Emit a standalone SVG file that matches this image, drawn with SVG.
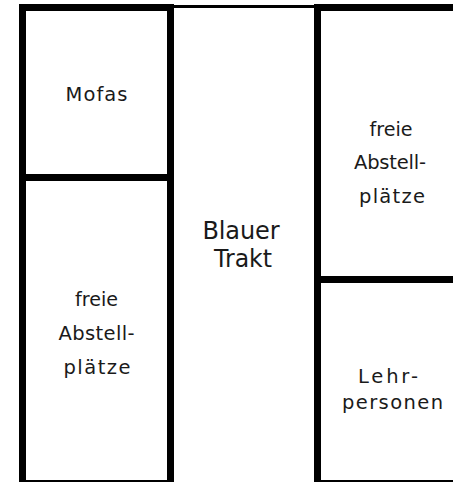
<svg xmlns="http://www.w3.org/2000/svg" width="453" height="482" viewBox="0 0 453 482">
<style>
.w{fill:#000}
.t{font-family:"DejaVu Sans","Noto Sans",sans-serif;font-size:19.5px;fill:#1a1a1a;text-anchor:middle}
.b{font-size:24px}
</style>
<rect width="453" height="482" fill="#fff"/>
<g id="walls">
<rect class="w" x="19" y="4" width="7" height="478"/>
<rect class="w" x="19" y="4" width="155" height="7"/>
<rect class="w" x="167" y="4" width="7" height="478"/>
<rect class="w" x="19" y="174" width="155" height="7"/>
<rect class="w" x="19" y="480" width="155" height="2"/>
<rect class="w" x="174" y="5" width="140" height="3"/>
<rect class="w" x="314" y="4" width="7" height="478"/>
<rect class="w" x="314" y="4" width="139" height="7"/>
<rect class="w" x="314" y="276" width="139" height="7"/>
<rect class="w" x="314" y="480" width="139" height="2"/>
</g>
<g id="mofas">
<text class="t" x="96.5" y="101" textLength="62" lengthAdjust="spacing">Mofas</text>
</g>
<g id="freie-links">
<text class="t" x="96.5" y="306" textLength="43" lengthAdjust="spacingAndGlyphs">freie</text>
<text class="t" x="96.5" y="340" textLength="76" lengthAdjust="spacing">Abstell-</text>
<text class="t" x="97" y="374" textLength="67" lengthAdjust="spacing">plätze</text>
</g>
<g id="blauer-trakt">
<text class="t b" x="241" y="238.5" textLength="77" lengthAdjust="spacing">Blauer</text>
<text class="t b" x="243" y="266.5" textLength="58" lengthAdjust="spacingAndGlyphs">Trakt</text>
</g>
<g id="freie-rechts">
<text class="t" x="391" y="136" textLength="43" lengthAdjust="spacingAndGlyphs">freie</text>
<text class="t" x="390" y="168.5" textLength="72" lengthAdjust="spacing">Abstell-</text>
<text class="t" x="392" y="202.5" textLength="66" lengthAdjust="spacing">plätze</text>
</g>
<g id="lehrpersonen">
<text class="t" x="388" y="383" textLength="60" lengthAdjust="spacing">Lehr-</text>
<text class="t" x="392.5" y="409" textLength="101" lengthAdjust="spacing">personen</text>
</g>
</svg>
